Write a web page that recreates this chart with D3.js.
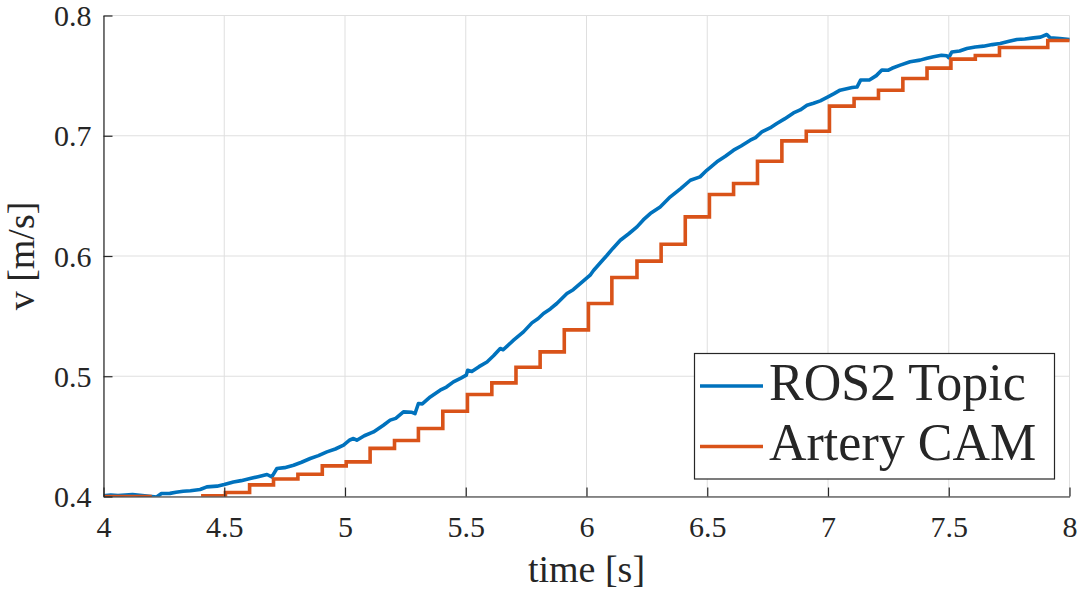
<!DOCTYPE html>
<html>
<head>
<meta charset="utf-8">
<script src="https://cdn.jsdelivr.net/npm/d3@7"></script>
<style>
  body { margin: 0; background: #fff; }
  text { font-family: "Liberation Serif", "DejaVu Serif", serif; fill: #262626; }
</style>
</head>
<body>
<svg id="chart" width="1081" height="593"></svg>
<script>
// ROS2 Topic (blue): time [s] and v [m/s]
var rosT = [4.000, 4.030, 4.060, 4.090, 4.120, 4.150, 4.190, 4.220, 4.240, 4.275,
            4.300, 4.330, 4.360, 4.400, 4.428, 4.470, 4.500, 4.538, 4.570, 4.607,
            4.640, 4.677, 4.697, 4.718, 4.750, 4.787, 4.820, 4.856, 4.890, 4.925,
            4.960, 4.994, 5.020, 5.035, 5.049, 5.080, 5.118, 5.159, 5.187, 5.210,
            5.242, 5.277, 5.290, 5.304, 5.320, 5.353, 5.394, 5.420, 5.449, 5.480,
            5.502, 5.508, 5.525, 5.555, 5.588, 5.615, 5.643, 5.655, 5.698, 5.739,
            5.774, 5.800, 5.822, 5.850, 5.877, 5.919, 5.945, 5.974, 6.015, 6.029,
            6.060, 6.085, 6.110, 6.140, 6.175, 6.209, 6.235, 6.264, 6.305, 6.347,
            6.390, 6.430, 6.470, 6.498, 6.540, 6.575, 6.609, 6.640, 6.678, 6.700,
            6.726, 6.760, 6.788, 6.820, 6.857, 6.885, 6.913, 6.940, 6.968, 7.000,
            7.025, 7.050, 7.100, 7.120, 7.135, 7.173, 7.200, 7.223, 7.250, 7.265,
            7.299, 7.340, 7.381, 7.410, 7.437, 7.470, 7.492, 7.500, 7.513, 7.545,
            7.575, 7.610, 7.644, 7.680, 7.713, 7.750, 7.782, 7.815, 7.851, 7.880,
            7.906, 7.920, 7.960, 8.000];
var rosV = [0.4005, 0.4012, 0.4008, 0.4013, 0.4017, 0.4010, 0.4002, 0.3996, 0.4025, 0.4026,
            0.4035, 0.4044, 0.4048, 0.4058, 0.4080, 0.4086, 0.4100, 0.4121, 0.4132, 0.4150,
            0.4165, 0.4183, 0.4163, 0.4233, 0.4240, 0.4260, 0.4285, 0.4316, 0.4340, 0.4371,
            0.4395, 0.4427, 0.4470, 0.4482, 0.4468, 0.4505, 0.4537, 0.4593, 0.4635, 0.4650,
            0.4704, 0.4700, 0.4690, 0.4773, 0.4770, 0.4828, 0.4884, 0.4910, 0.4953, 0.4985,
            0.5009, 0.5050, 0.5040, 0.5080, 0.5119, 0.5170, 0.5231, 0.5220, 0.5300, 0.5369,
            0.5444, 0.5480, 0.5522, 0.5560, 0.5605, 0.5688, 0.5720, 0.5771, 0.5840, 0.5880,
            0.5950, 0.6006, 0.6065, 0.6131, 0.6185, 0.6242, 0.6300, 0.6353, 0.6408, 0.6492,
            0.6560, 0.6630, 0.6658, 0.6713, 0.6783, 0.6830, 0.6880, 0.6915, 0.6963, 0.6985,
            0.7032, 0.7065, 0.7102, 0.7140, 0.7190, 0.7215, 0.7254, 0.7270, 0.7290, 0.7323,
            0.7350, 0.7379, 0.7401, 0.7405, 0.7463, 0.7465, 0.7500, 0.7547, 0.7545, 0.7561,
            0.7587, 0.7615, 0.7629, 0.7645, 0.7657, 0.7670, 0.7665, 0.7650, 0.7697, 0.7705,
            0.7725, 0.7738, 0.7745, 0.7758, 0.7767, 0.7785, 0.7800, 0.7805, 0.7814, 0.7820,
            0.7842, 0.7814, 0.7808, 0.7800];

// Artery CAM (orange): step levels, null = no data
var camT = [4.000, 4.200, 4.300, 4.404, 4.505, 4.605, 4.704, 4.805, 4.906, 5.005,
            5.104, 5.205, 5.304, 5.405, 5.507, 5.608, 5.708, 5.808, 5.908, 6.008,
            6.105, 6.209, 6.309, 6.409, 6.509, 6.609, 6.708, 6.809, 6.910, 7.006,
            7.108, 7.209, 7.310, 7.410, 7.509, 7.610, 7.710, 7.910, 8.000];
var camV = [0.4000, 0.4000, null, 0.4005, 0.4033, 0.4097, 0.4146, 0.4185, 0.4255, 0.4288,
            0.4400, 0.4466, 0.4566, 0.4709, 0.4848, 0.4945, 0.5075, 0.5203, 0.5386, 0.5605,
            0.5821, 0.5957, 0.6098, 0.6325, 0.6512, 0.6603, 0.6788, 0.6957, 0.7038, 0.7246,
            0.7310, 0.7379, 0.7476, 0.7562, 0.7637, 0.7667, 0.7734, 0.7792, 0.7792];

var xTicks = [4, 4.5, 5, 5.5, 6, 6.5, 7, 7.5, 8];
var yTicks = [0.4, 0.5, 0.6, 0.7, 0.8];
var seriesNames = ['ROS2 Topic', 'Artery CAM'];
var seriesColors = ['#0072BD', '#D95319'];

var pLeft = 103.5, pRight = 1069.5, pTop = 15.5, pBottom = 496.5;

var svg = d3.select('#chart');

var x = d3.scaleLinear().domain([4, 8]).range([pLeft, pRight]);
var y = d3.scaleLinear().domain([0.4, 0.8]).range([pBottom, pTop]);

// grid
svg.append('g')
  .selectAll('line')
  .data(xTicks)
  .enter().append('line')
  .attr('x1', function(d) { return x(d); })
  .attr('x2', function(d) { return x(d); })
  .attr('y1', pTop).attr('y2', pBottom)
  .attr('stroke', '#dfdfdf').attr('stroke-width', 1);

svg.append('g')
  .selectAll('line')
  .data(yTicks)
  .enter().append('line')
  .attr('x1', pLeft).attr('x2', pRight)
  .attr('y1', function(d) { return y(d); })
  .attr('y2', function(d) { return y(d); })
  .attr('stroke', '#dfdfdf').attr('stroke-width', 1);

svg.append('clipPath').attr('id', 'clip')
  .append('rect')
  .attr('x', pLeft).attr('y', pTop - 3)
  .attr('width', pRight - pLeft + 3).attr('height', pBottom - pTop + 3);

var plot = svg.append('g').attr('clip-path', 'url(#clip)');

var rosData = rosT.map(function(t, i) { return [t, rosV[i]]; });
var camData = camT.map(function(t, i) { return [t, camV[i]]; });

var rosLine = d3.line()
  .x(function(d) { return x(d[0]); })
  .y(function(d) { return y(d[1]); });

var camLine = d3.line()
  .defined(function(d) { return d[1] !== null; })
  .curve(d3.curveStepAfter)
  .x(function(d) { return x(d[0]); })
  .y(function(d) { return y(d[1]); });

plot.append('path')
  .datum(rosData)
  .attr('d', rosLine)
  .attr('fill', 'none')
  .attr('stroke', seriesColors[0])
  .attr('stroke-width', 3.6)
  .attr('stroke-linejoin', 'round');

plot.append('path')
  .datum(camData)
  .attr('d', camLine)
  .attr('fill', 'none')
  .attr('stroke', seriesColors[1])
  .attr('stroke-width', 3.6);

// axes
var xAxis = d3.axisBottom(x).tickValues(xTicks).tickSizeInner(-9).tickSizeOuter(0)
  .tickFormat(function(d) { return d; });
var yAxis = d3.axisLeft(y).tickValues(yTicks).tickSizeInner(-9).tickSizeOuter(0)
  .tickFormat(d3.format('.1f'));

var gx = svg.append('g').attr('transform', 'translate(0,' + pBottom + ')').call(xAxis);
var gy = svg.append('g').attr('transform', 'translate(' + pLeft + ',0)').call(yAxis);

[gx, gy].forEach(function(g) {
  g.select('.domain').attr('stroke', '#262626').attr('stroke-width', 1.2);
  g.selectAll('.tick line').attr('stroke', '#262626').attr('stroke-width', 1.2);
  g.selectAll('.tick text')
    .attr('font-size', 30)
    .attr('fill', '#262626')
    .style('font-family', '"Liberation Serif", serif');
});
gx.selectAll('.tick text').attr('y', 19).attr('dy', '0.71em');
gy.selectAll('.tick text').attr('x', -12).attr('dy', '0.34em');

svg.append('text')
  .attr('x', (pLeft + pRight) / 2)
  .attr('y', 582)
  .attr('text-anchor', 'middle')
  .attr('font-size', 38)
  .text('time [s]');

svg.append('text')
  .attr('transform', 'translate(34,' + ((pTop + pBottom) / 2) + ') rotate(-90)')
  .attr('text-anchor', 'middle')
  .attr('font-size', 38)
  .text('v [m/s]');

// legend
var legend = svg.append('g');
legend.append('rect')
  .attr('x', 694.5).attr('y', 353.5)
  .attr('width', 360).attr('height', 125.5)
  .attr('fill', '#fff')
  .attr('stroke', '#262626').attr('stroke-width', 1.2);

var rows = legend.selectAll('g')
  .data(seriesNames)
  .enter().append('g')
  .attr('transform', function(d, i) { return 'translate(0,' + (386 + i * 60.5) + ')'; });

rows.append('line')
  .attr('x1', 700).attr('x2', 763)
  .attr('y1', 0).attr('y2', 0)
  .attr('stroke', function(d, i) { return seriesColors[i]; })
  .attr('stroke-width', 3.6);

rows.append('text')
  .attr('x', 769)
  .attr('y', 13.5)
  .attr('font-size', 52)
  .attr('fill', '#000')
  .text(function(d) { return d; });
</script>
</body>
</html>
